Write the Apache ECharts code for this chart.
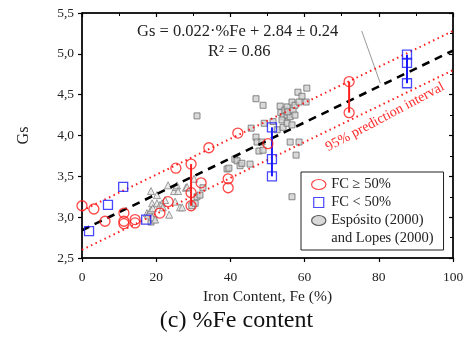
<!DOCTYPE html>
<html><head><meta charset="utf-8">
<script src="https://cdn.jsdelivr.net/npm/echarts@6/dist/echarts.min.js"></script>
<style>html,body{margin:0;padding:0;background:#fff}#c{width:473px;height:347px}</style>
</head><body><div id="c"></div>
<script>
// ---- data ----
const xTicks = [0, 20, 40, 60, 80, 100];
const yTicks = ['2,5','3,0','3,5','4,0','4,5','5,0','5,5'];
const fcHigh = [[0,3.14],[3.2,3.10],[6.2,2.95],[11.3,3.05],[11.3,2.95],[11.3,2.92],[14.3,2.97],[14.3,2.93],
  [21.0,3.05],[23.2,3.19],[25.3,3.60],[29.4,3.65],[29.4,3.30],[29.4,3.14],[32.1,3.42],[34.2,3.85],
  [39.4,3.47],[39.4,3.36],[42.0,4.03],[50.1,3.90],[72.0,4.66],[72.0,4.28]];
const fcLow = [[1.9,2.83],[7.0,3.15],[11.1,3.37],[17.3,2.97],[51.2,4.10],[51.2,3.71],[51.2,3.50],
  [87.6,4.99],[87.6,4.89],[87.6,4.64]];
const litSquares = [[29.6,3.14],[30.5,3.17],[31.0,3.25],[31.8,3.27],[32.6,3.36],[31.0,4.24],[39.1,3.59],
  [39.6,3.60],[41.2,3.71],[41.8,3.69],[42.6,3.63],[43.1,3.66],[45.3,3.65],[45.6,4.09],[46.9,4.45],
  [48.8,4.37],[46.9,3.98],[47.2,3.92],[48.5,3.92],[47.7,3.81],[48.8,3.82],[49.1,4.15],[52.6,4.07],
  [51.5,4.17],[53.4,4.36],[53.6,4.28],[54.2,4.23],[53.9,4.19],[54.2,4.10],[54.7,4.31],[55.3,4.35],
  [55.3,4.25],[55.3,4.15],[56.1,4.23],[56.6,4.13],[55.5,4.29],[56.9,4.31],[56.6,4.41],[57.4,4.37],
  [58.2,4.53],[59.3,4.48],[60.4,4.41],[58.5,4.41],[60.6,4.58],[56.1,3.92],[58.5,3.92],[57.7,3.76],
  [56.6,3.25],[57.4,4.25],[18.6,2.94],[19.4,2.97]];
const litTriangles = [[17.5,3.05],[17.8,3.03],[18.3,3.06],[18.6,3.32],[18.6,3.09],[18.9,3.17],[18.9,3.00],
  [19.1,3.11],[19.7,2.97],[20.2,3.17],[20.2,3.27],[21.0,3.15],[21.6,3.17],[21.8,3.12],[22.4,3.21],
  [23.2,3.39],[23.5,3.03],[24.8,3.32],[25.3,3.37],[25.6,3.39],[25.9,3.32],[25.1,3.19],[26.4,3.12],
  [27.0,3.12],[28.0,3.36],[28.3,3.37],[30.2,3.47]];
const redLinks = [[[29.4,3.65],[29.4,3.14]], [[72.0,4.66],[72.0,4.28]]];
const blueLinks = [[[51.2,4.10],[51.2,3.50]], [[87.6,4.99],[87.6,4.64]]];
const fitLine = [[0,2.84],[100,5.04]];
const upperPI = [[0,3.08],[100,5.28]];
const lowerPI = [[0,2.60],[100,4.80]];
const leaderLine = [[75.4,5.28],[80.4,4.64]];

const SERIF = '"Liberation Serif", "DejaVu Serif", serif';
const chart = echarts.init(document.getElementById('c'), null, {renderer:'canvas'});
const grid = {left:82, right:20, top:13, bottom:89, show:true, borderColor:'#000', borderWidth:1};
const ellipse = 'path://M0,7a10,7 0 1,0 20,0a10,7 0 1,0 -20,0z';
const square = 'path://M0,0H10V10H0Z';

function axisBase(min,max,interval){
  return {type:'value', min, max, interval, splitLine:{show:false},
    axisLine:{show:true, onZero:false, lineStyle:{color:'#000', width:1.5}}};
}
const xa0 = Object.assign(axisBase(0,100,20), {
  name:'Iron Content, Fe (%)', nameLocation:'middle', nameGap:31,
  nameTextStyle:{fontFamily:SERIF, fontSize:15.5, color:'#222'},
  axisTick:{show:true, inside:false, length:4, lineStyle:{color:'#000', width:1.2}},
  axisLabel:{fontFamily:SERIF, fontSize:13.5, color:'#222', margin:12,
    formatter: v => xTicks.includes(v) ? String(v) : ''}
});
const xa1 = Object.assign(axisBase(0,100,20), {
  axisLabel:{show:false}, axisTick:{show:true, inside:true, length:4, lineStyle:{color:'#000', width:1.2}},
  minorTick:{show:true, splitNumber:2, length:3, lineStyle:{color:'#000', width:1}}
});
const ya0 = Object.assign(axisBase(2.5,5.5,0.5), {
  name:'Gs', nameLocation:'middle', nameGap:50, nameRotate:90,
  nameTextStyle:{fontFamily:SERIF, fontSize:16, color:'#222'},
  axisTick:{show:true, inside:false, length:4, lineStyle:{color:'#000', width:1.2}},
  axisLabel:{fontFamily:SERIF, fontSize:13.5, color:'#222', margin:8,
    formatter: v => yTicks[Math.round((v-2.5)/0.5)] || ''}
});
const ya1 = Object.assign(axisBase(2.5,5.5,0.5), {
  axisLabel:{show:false}, axisTick:{show:true, inside:true, length:4, lineStyle:{color:'#000', width:1.2}},
  minorTick:{show:true, splitNumber:2, length:3, lineStyle:{color:'#000', width:1}}
});

const series = [];
function lineSeries(name, data, color, width, type, z){
  series.push({name, type:'line', data, symbol:'none', silent:true, z,
    lineStyle:{color, width, type}, animation:false});
}
lineSeries('lower', lowerPI, '#ff1a1a', 2, [1.5,3.5], 3);
lineSeries('upper', upperPI, '#ff1a1a', 2, [1.5,3.5], 3);
lineSeries('fit', fitLine, '#000', 2.6, [8,6], 4);
lineSeries('leader', leaderLine, '#9a9a9a', 1, 'solid', 2);
redLinks.forEach((d,i)=>lineSeries('rl'+i, d, '#ff2020', 2, 'solid', 5));
blueLinks.forEach((d,i)=>lineSeries('bl'+i, d, '#1a1aff', 2, 'solid', 5));

series.push({name:'Espósito (2000)', type:'scatter', data:litSquares, symbol:'rect', symbolSize:6, z:2,
  itemStyle:{color:'#cfcfcf', borderColor:'#6e6e6e', borderWidth:1}, animation:false});
series.push({name:'tri', type:'scatter', data:litTriangles, symbol:'triangle', symbolSize:7, z:2,
  itemStyle:{color:'#e6e6e6', borderColor:'#858585', borderWidth:1}, animation:false});
series.push({name:'and Lopes (2000)', type:'scatter', data:[], animation:false});
series.push({name:'FC ≥ 50%', type:'scatter', data:fcHigh, symbol:'circle', symbolSize:10, z:6,
  itemStyle:{color:'rgba(0,0,0,0)', borderColor:'#ff1a1a', borderWidth:1.3}, animation:false});
series.push({name:'FC < 50%', type:'scatter', data:fcLow, symbol:'rect', symbolSize:9, z:6,
  itemStyle:{color:'rgba(0,0,0,0)', borderColor:'#1a1aff', borderWidth:1.3}, animation:false});

chart.setOption({
  animation:false,
  backgroundColor:'#fff',
  grid,
  xAxis:[xa0, xa1],
  yAxis:[ya0, ya1],
  legend:{
    orient:'vertical', left:301, top:172, padding:[5,10,4,10], itemGap:3,
    itemWidth:15, itemHeight:10, borderColor:'#222', borderWidth:1, backgroundColor:'#fff',
    selectedMode:false, textStyle:{fontFamily:SERIF, fontSize:14.5, color:'#222'},
    data:[
      {name:'FC ≥ 50%', icon:ellipse, itemStyle:{color:'rgba(0,0,0,0)', borderColor:'#ff1a1a', borderWidth:1.2}},
      {name:'FC < 50%', icon:square, itemStyle:{color:'rgba(0,0,0,0)', borderColor:'#1a1aff', borderWidth:1.2}},
      {name:'Espósito (2000)', icon:ellipse, itemStyle:{color:'#d0d0d0', borderColor:'#333', borderWidth:1.2}},
      {name:'and Lopes (2000)', icon:'rect', itemStyle:{color:'rgba(0,0,0,0)', borderWidth:0, borderColor:'rgba(0,0,0,0)'}}
    ]
  },
  graphic:[
    {type:'text', left:137, top:23, z:10, style:{text:'Gs = 0.022·%Fe + 2.84 ± 0.24', fontFamily:SERIF, fontSize:16.5, fill:'#222'}},
    {type:'text', left:208, top:43, z:10, style:{text:'R² = 0.86', fontFamily:SERIF, fontSize:16.5, fill:'#222'}},
    {type:'text', x:385, y:117, rotation:28*Math.PI/180, z:10,
      style:{text:'95% prediction interval', fontFamily:SERIF, fontSize:14, fill:'#ff2a2a', align:'center', verticalAlign:'middle'}},
    {type:'text', left:'center', top:309, z:10, style:{text:'(c) %Fe content', fontFamily:SERIF, fontSize:24, fill:'#111'}}
  ],
  series
});
</script></body></html>
